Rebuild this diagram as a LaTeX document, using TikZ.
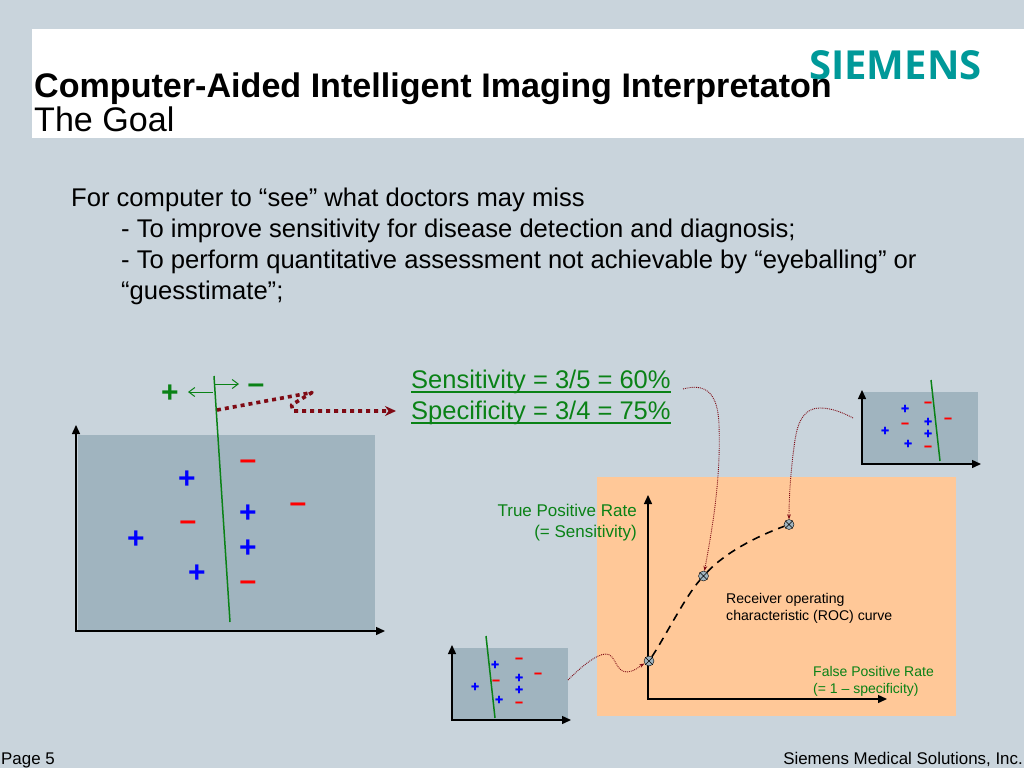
\documentclass[tikz,border=0pt]{standalone}
\usepackage{fontspec}
\setmainfont{Liberation Sans}
\newfontfamily\logofont{Open Sans}
\newfontfamily\signfont[BoldFeatures={FakeBold=2}]{Liberation Sans}
\usetikzlibrary{arrows.meta, positioning}

\definecolor{slidebg}{HTML}{C9D4DC}
\definecolor{panelgrey}{HTML}{A0B4BF}
\definecolor{rocorange}{HTML}{FFC898}
\definecolor{siemensteal}{HTML}{009999}
\definecolor{darkgreen}{HTML}{0A8216}
\definecolor{darkred}{HTML}{7F0A14}

\tikzset{
  txt/.style={inner sep=0pt, anchor=base west, align=left},
  axis/.style={draw=black, line width=1.4pt, {Triangle[length=9pt,width=8pt]}-{Triangle[length=9pt,width=8pt]}},
  sep/.style={draw=darkgreen, line width=1.5pt},
  bigplus/.style={inner sep=0pt, font=\fontsize{30}{30}\selectfont\bfseries, text=blue},
  bigminus/.style={inner sep=0pt, font=\fontsize{30}{30}\selectfont\bfseries, text=red},
  tinyplus/.style={inner sep=0pt, font=\signfont\fontsize{14}{14}\selectfont\bfseries, text=blue},
  tinyminus/.style={inner sep=0pt, font=\signfont\fontsize{14}{14}\selectfont\bfseries, text=red},
  rocdot/.style={circle, draw=black, fill=panelgrey, inner sep=0pt, minimum size=10pt},
  linkcurve/.style={draw=darkred, densely dotted, line width=0.9pt, -{Stealth[length=5pt]}},
  rule/.style={draw=darkgreen, line width=2pt},
}

\begin{document}
\begin{tikzpicture}[x=1pt, y=-1pt]
  \useasboundingbox (0,0) rectangle (1024,768);
  \fill[slidebg] (0,0) rectangle (1024,768);
  \fill[white] (32,29) rectangle (1024,138);

  % heading
  \node[txt, text=siemensteal, font=\logofont\fontsize{40}{40}\selectfont\bfseries] (logo) at (809,79) {SIEMENS};
  \node[txt, font=\fontsize{34.1}{34.1}\selectfont\bfseries] (title) at (34,97) {Computer-Aided Intelligent Imaging Interpretaton};
  \node[txt, font=\fontsize{34.1}{34.1}\selectfont] (subtitle) at (34,131) {The Goal};

  % goal text
  \node[txt, font=\fontsize{25.6}{25.6}\selectfont] (goal) at (71,206) {For computer to “see” what doctors may miss};
  \node[txt, font=\fontsize{25.6}{25.6}\selectfont] (goala) at (121,237) {- To improve sensitivity for disease detection and diagnosis;};
  \node[txt, font=\fontsize{25.6}{25.6}\selectfont] (goalb) at (121,268) {- To perform quantitative assessment not achievable by “eyeballing” or};
  \node[txt, font=\fontsize{25.6}{25.6}\selectfont] (goalc) at (121,299) {“guesstimate”;};

  % main classifier
  \fill[panelgrey] (78,435) rectangle (375,630);
  \coordinate (mo) at (76,631);
  \coordinate (my) at (76,425);
  \coordinate (mx) at (385,631);
  \draw[axis] (my) -- (mo) -- (mx);
  \coordinate (stop) at (214,376);
  \coordinate (sbot) at (230,622);
  \draw[sep] (stop) -- (sbot);
  \foreach \px/\py in {187/480, 136/540, 197/574, 248/514, 248/549}
    \node[bigplus] at (\px,\py) {+};
  \foreach \px/\py in {248/465, 188/526, 298/508, 248/586}
    \node[bigminus] at (\px,\py) {–};

  \node[bigplus, text=darkgreen] (posside) at (170,394) {+};
  \node[bigminus, text=darkgreen] (negside) at (256,389) {–};
  \coordinate (la) at (213,392);
  \coordinate (lb) at (188,392);
  \coordinate (ra) at (214,384);
  \coordinate (rb) at (239,384);
  \draw[darkgreen, line width=1pt, -{Straight Barb[length=6pt,width=9pt]}] (la) -- (lb);
  \draw[darkgreen, line width=1pt, -{Straight Barb[length=6pt,width=9pt]}] (ra) -- (rb);

  % measures
  \node[txt, text=darkgreen, font=\fontsize{25.5}{25.5}\selectfont] (sens) at (411,388) {Sensitivity = 3/5 = 60\%};
  \node[txt, text=darkgreen, font=\fontsize{25.5}{25.5}\selectfont] (spec) at (411,419.5) {Specificity = 3/4 = 75\%};
  \draw[rule] ([yshift=-4pt]sens.base west) -- ([yshift=-4pt]sens.base east);
  \draw[rule] ([yshift=-3pt]spec.base west) -- ([yshift=-3pt]spec.base east);

  \coordinate (za) at (217,410);
  \coordinate (zb) at (312,392.5);
  \coordinate (zc) at (291.5,405);
  \coordinate (zd) at (293,411);
  \coordinate (ze) at (396,411);
  \draw[darkred, line width=3.6pt, line join=round, dash pattern=on 4pt off 4pt, -{Stealth[length=11pt,width=10pt]}] (za) -- (zb) -- (zc) -- (zd) -- (ze);

  % ROC panel
  \fill[rocorange] (597,477) rectangle (956,716);
  \node[txt, anchor=base east, align=right, text=darkgreen, font=\fontsize{17}{17}\selectfont] (tpr) at (637,516) {True Positive Rate};
  \node[txt, anchor=base east, align=right, text=darkgreen, font=\fontsize{17}{17}\selectfont] (tprb) at (637,537) {(= Sensitivity)};
  \coordinate (ro) at (648,699);
  \coordinate (ry) at (648,495);
  \coordinate (rx) at (887,699);
  \draw[axis] (ry) -- (ro) -- (rx);

  \node[rocdot] (p1) at (649,661) {};
  \node[rocdot] (p2) at (703.5,576) {};
  \node[rocdot] (p3) at (789,524.5) {};
  \foreach \pt in {p1,p2,p3}
    \draw[thin] (\pt.north west) -- (\pt.south east) (\pt.north east) -- (\pt.south west);
  \draw[line width=1.6pt, dash pattern=on 8pt off 6pt] (p1) .. controls (665,637) and (685,597) .. (p2) .. controls (725,553) and (755,537) .. (p3);

  \node[txt, font=\fontsize{14.1}{14.1}\selectfont] (rocla) at (726,603) {Receiver operating};
  \node[txt, font=\fontsize{14.1}{14.1}\selectfont] (roclb) at (726,620) {characteristic (ROC) curve};
  \node[txt, text=darkgreen, font=\fontsize{14}{14}\selectfont] (fpr) at (813,676) {False Positive Rate};
  \node[txt, text=darkgreen, font=\fontsize{14}{14}\selectfont] (fprb) at (813,693) {(= 1 – specificity)};

  % small classifier, top right
  \fill[panelgrey] (863,392) rectangle (978,463);
  \coordinate (ao) at (862,464);
  \coordinate (ay) at (862,390);
  \coordinate (ax) at (981,464);
  \draw[axis] (ay) -- (ao) -- (ax);
  \coordinate (atop) at (931,380);
  \coordinate (abot) at (940,461);
  \draw[sep] (atop) -- (abot);
  \foreach \px/\py in {905/409, 885/431, 908/444, 928/422, 928/434}
    \node[tinyplus] at (\px,\py) {+};
  \foreach \px/\py in {928/404, 905/425, 948/420, 928/448}
    \node[tinyminus] at (\px,\py) {–};

  % small classifier, bottom left
  \fill[panelgrey] (452,648) rectangle (568,720);
  \coordinate (bo) at (452,720);
  \coordinate (by) at (452,645);
  \coordinate (bx) at (571,720);
  \draw[axis] (by) -- (bo) -- (bx);
  \coordinate (btop) at (486,636);
  \coordinate (bbot) at (495,718);
  \draw[sep] (btop) -- (bbot);
  \foreach \px/\py in {495/665, 475/687, 499/700, 519/678, 519/690}
    \node[tinyplus] at (\px,\py) {+};
  \foreach \px/\py in {519/660, 496/682, 538/675, 519/704}
    \node[tinyminus] at (\px,\py) {–};

  % links to the curve
  \coordinate (lsens) at (683,389);
  \coordinate (lside) at (853,418);
  \coordinate (lpanel) at (568,680);
  \draw[linkcurve] (lsens) .. controls (705,383) and (718,392) .. (719,425)
    .. controls (721,480) and (712,530) .. (p2);
  \draw[linkcurve] (lside) .. controls (838,410) and (828,408) .. (820,408)
    .. controls (805,408) and (798,420) .. (795,440)
    .. controls (792,460) and (789,490) .. (p3);
  \draw[linkcurve] (lpanel) .. controls (580,668) and (596,654) .. (606,654)
    .. controls (616,654) and (615,672) .. (627,672)
    .. controls (634,672) and (640,666) .. (p1);

  % footer
  \node[txt, font=\fontsize{16.9}{16.9}\selectfont] (page) at (1,764) {Page 5};
  \node[txt, anchor=base east, font=\fontsize{16.9}{16.9}\selectfont] (firm) at (1023,764) {Siemens Medical Solutions, Inc.};
\end{tikzpicture}
\end{document}
